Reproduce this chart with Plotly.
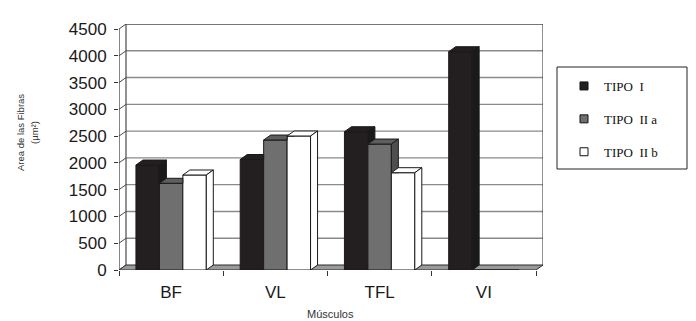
import plotly.graph_objects as go

# ---------------- data ----------------
categories = ["BF", "VL", "TFL", "VI"]
series_names = ["TIPO\u00a0 I", "TIPO\u00a0 II a", "TIPO\u00a0 II b"]
tipo_I = [1960, 2063, 2582, 4076]
tipo_IIa = [1619, 2427, 2352, 0]
tipo_IIb = [1774, 2502, 1817, 0]
y_ticks = [0, 500, 1000, 1500, 2000, 2500, 3000, 3500, 4000, 4500]

# ---------------- style ----------------
front_colors = ["#231f20", "#6f6f6f", "#ffffff"]
top_colors = ["#231f20", "#5e5e5e", "#ffffff"]
side_colors = ["#1a1a1a", "#4f4f4f", "#ffffff"]
edge = "#1a1a1a"

# the page body has an 8px margin; figure is shifted by it
OFF = 8
FIG_W, FIG_H = 696 - OFF, 321 - OFF
PL, PR, PT, PB = 119, 543, 24, 270   # plot area in reference pixels


def px_x(x):
    return (x - PL) / (PR - PL)


def px_y(y):
    return (PB - y) / (PB - PT)


# geometry (axis units)
PX_X = 104.25          # px per category unit
PX_Y = 241 / 4500.0    # px per value unit
DX = 7 / PX_X          # depth offset in x
DY = 5 / PX_Y          # depth offset in y
W = 0.225              # bar width
XMIN, XMAX = -0.5, len(categories) - 0.5
YMAX = y_ticks[-1]

series = [tipo_I, tipo_IIa, tipo_IIb]
n = len(series)

fig = go.Figure()

# front faces as bars
for s, vals in enumerate(series):
    fig.add_trace(go.Bar(
        x=list(range(len(categories))), y=vals,
        width=W, offset=-1.5 * W + s * W,
        marker=dict(color=front_colors[s], line=dict(color=edge, width=1)),
        showlegend=False, hoverinfo="skip", name=series_names[s]))


def top_poly(x0, x1, v, vn):
    A, B = (x0, v), (x1, v)
    C, D = (x1 + DX, v + DY), (x0 + DX, v + DY)
    if vn <= v:
        return [A, B, C, D]
    if vn >= v + DY:
        return [A, B, (x1, v + DY), D]
    xi = x1 + DX * (vn - v) / DY
    return [A, B, (x1, vn), (xi, vn), C, D]


def side_poly(x1, v, vn):
    C = (x1 + DX, v + DY)
    if vn <= 0:
        return [(x1, 0), (x1, v), C, (x1 + DX, DY)]
    if vn >= v + DY:
        return []
    if vn <= v:
        if vn >= DY:
            return [(x1, vn), (x1, v), C, (x1 + DX, vn)]
        return [(x1, vn), (x1, v), C, (x1 + DX, DY), (x1 + DX * vn / DY, vn)]
    xi = x1 + DX * (vn - v) / DY
    return [(xi, vn), C, (x1 + DX, vn)]


for s, vals in enumerate(series):
    for kind in ("top", "side"):
        xs, ys = [], []
        for i, v in enumerate(vals):
            if v <= 0:
                continue
            x0 = i - 1.5 * W + s * W
            x1 = x0 + W
            vn = series[s + 1][i] if s + 1 < n else 0
            poly = top_poly(x0, x1, v, vn) if kind == "top" else side_poly(x1, v, vn)
            if not poly:
                continue
            for (px, py) in poly + [poly[0]]:
                xs.append(px)
                ys.append(py)
            xs.append(None)
            ys.append(None)
        fig.add_trace(go.Scatter(
            x=xs, y=ys, mode="lines", fill="toself",
            fillcolor=(top_colors if kind == "top" else side_colors)[s],
            line=dict(color=edge, width=1),
            showlegend=False, hoverinfo="skip"))

# legend entries
for s in range(n):
    fig.add_trace(go.Scatter(
        x=[None], y=[None], mode="markers", name=series_names[s],
        legendgroup=f"g{s}",
        marker=dict(symbol="square", size=8, color=front_colors[s],
                    line=dict(color="#111111", width=1))))

# ---------------- walls, floor, gridlines (shapes below traces) ----------------
shapes = []
grid_col = "#8a8a8a"
frame_col = "#4a4a4a"
for t in y_ticks[1:]:
    shapes.append(dict(type="line", xref="x", yref="y", layer="below",
                       x0=XMIN + DX, x1=XMAX + DX, y0=t + DY, y1=t + DY,
                       line=dict(color=grid_col if t < YMAX else frame_col, width=1.4)))
for t in y_ticks:
    shapes.append(dict(type="line", xref="x", yref="y", layer="below",
                       x0=XMIN, x1=XMIN + DX, y0=t, y1=t + DY,
                       line=dict(color=frame_col, width=1)))
# back wall left and right edges
shapes.append(dict(type="line", xref="x", yref="y", layer="below",
                   x0=XMIN + DX, x1=XMIN + DX, y0=DY, y1=YMAX + DY,
                   line=dict(color=frame_col, width=1.2)))
shapes.append(dict(type="line", xref="x", yref="y", layer="below",
                   x0=XMAX + DX, x1=XMAX + DX, y0=DY, y1=YMAX + DY,
                   line=dict(color=frame_col, width=1.2)))
# front vertical axis line
shapes.append(dict(type="line", xref="x", yref="y", layer="below",
                   x0=XMIN, x1=XMIN, y0=0, y1=YMAX,
                   line=dict(color="#333333", width=1.2)))
# floor
shapes.append(dict(type="path", xref="x", yref="y", layer="below",
                   path=f"M {XMIN},0 L {XMAX},0 L {XMAX + DX},{DY} L {XMIN + DX},{DY} Z",
                   fillcolor="#9a9a9a", line=dict(color="#2a2a2a", width=1)))
# legend box
shapes.append(dict(type="rect", xref="paper", yref="paper",
                   x0=px_x(557), x1=px_x(687), y0=px_y(169), y1=px_y(67),
                   line=dict(color="#222222", width=1), fillcolor="rgba(0,0,0,0)"))

annotations = [
    dict(text="Area de las Fibras", xref="paper", yref="paper",
         x=px_x(20), y=px_y(133), textangle=-90, showarrow=False,
         xanchor="center", yanchor="middle",
         font=dict(family="Liberation Sans, Arial", size=9.5, color="#333333")),
    dict(text="(µm²)", xref="paper", yref="paper",
         x=px_x(34), y=px_y(133), textangle=-90, showarrow=False,
         xanchor="center", yanchor="middle",
         font=dict(family="Liberation Sans, Arial", size=9.5, color="#333333")),
    dict(text="Músculos", xref="paper", yref="paper",
         x=px_x(330), y=px_y(314), showarrow=False,
         xanchor="center", yanchor="middle",
         font=dict(family="Liberation Sans, Arial", size=11, color="#333333")),
]

fig.update_layout(
    width=FIG_W, height=FIG_H,
    margin=dict(l=PL - OFF, r=FIG_W - (PR - OFF), t=PT - OFF, b=FIG_H - (PB - OFF), pad=0,
                autoexpand=False),
    paper_bgcolor="white", plot_bgcolor="white",
    barmode="overlay",
    shapes=shapes, annotations=annotations,
    showlegend=True,
    legend=dict(x=px_x(564), xanchor="left", y=px_y(71), yanchor="top",
                bgcolor="rgba(0,0,0,0)", borderwidth=0, tracegroupgap=13,
                font=dict(family="Liberation Serif, Times New Roman", size=13, color="#111111")),
    xaxis=dict(range=[XMIN, XMAX + DX], showgrid=False, zeroline=False, showline=False,
               tickmode="array", tickvals=list(range(len(categories))), ticktext=categories,
               ticks="", ticklabelstandoff=10,
               tickfont=dict(family="Liberation Sans, Arial", size=17, color="#1a1a1a"),
               minor=dict(tickmode="array", tickvals=[XMIN + k for k in range(len(categories) + 1)],
                          ticks="outside", ticklen=5, tickcolor="#333333", tickwidth=1,
                          showgrid=False),
               fixedrange=True),
    yaxis=dict(range=[0, YMAX + DY], showgrid=False, zeroline=False, showline=False,
               tickmode="array", tickvals=y_ticks, ticks="outside", ticklen=4,
               tickcolor="#333333", tickwidth=1, ticklabelstandoff=4,
               tickfont=dict(family="Liberation Sans, Arial", size=17, color="#1a1a1a"),
               fixedrange=True),
)

fig.write_html("out.html")
